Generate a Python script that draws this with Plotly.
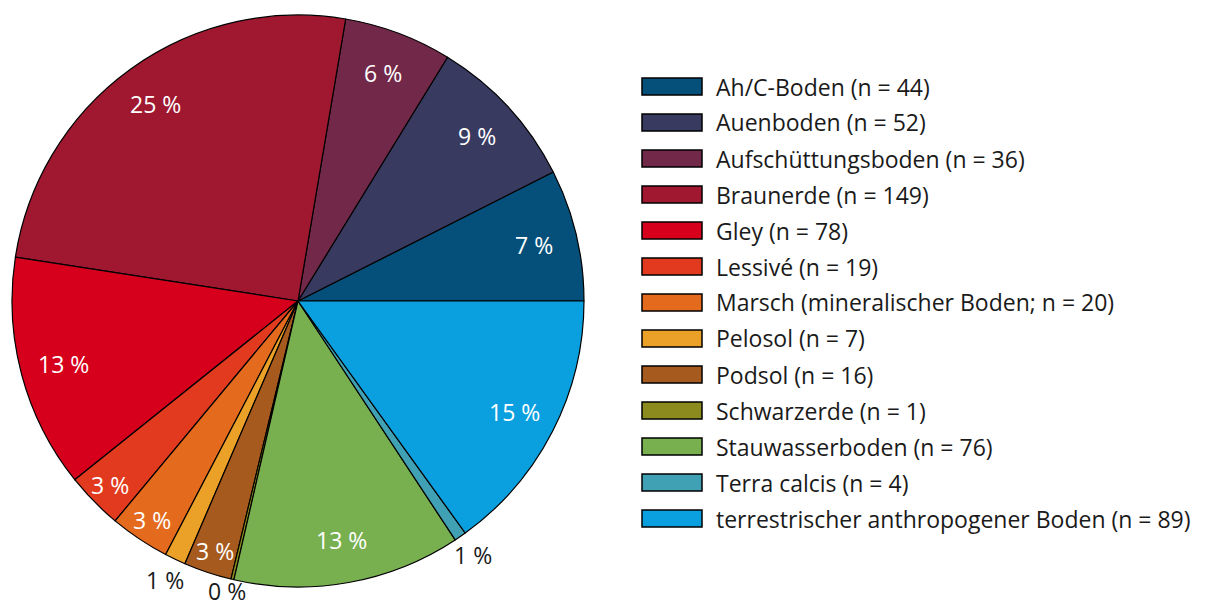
import math
import plotly.graph_objects as go

# soil types and sample counts
labels = [
    "Ah/C-Boden", "Auenboden", "Aufschüttungsboden", "Braunerde", "Gley",
    "Lessivé", "Marsch", "Pelosol", "Podsol", "Schwarzerde",
    "Stauwasserboden", "Terra calcis", "terrestrischer anthropogener Boden",
]
legend_text = [
    "Ah/C-Boden (n = 44)", "Auenboden (n = 52)", "Aufschüttungsboden (n = 36)",
    "Braunerde (n = 149)", "Gley (n = 78)", "Lessivé (n = 19)",
    "Marsch (mineralischer Boden; n = 20)", "Pelosol (n = 7)", "Podsol (n = 16)",
    "Schwarzerde (n = 1)", "Stauwasserboden (n = 76)", "Terra calcis (n = 4)",
    "terrestrischer anthropogener Boden (n = 89)",
]
counts = [44, 52, 36, 149, 78, 19, 20, 7, 16, 1, 76, 4, 89]
colors = [
    "#05507A", "#383A60", "#722848", "#A01830", "#D7001C", "#E23A1E", "#E46A1E",
    "#EBA028", "#A65A1E", "#8C8C1E", "#78B050", "#40A0B4", "#0AA0E0",
]
outside = ["Pelosol", "Schwarzerde", "Terra calcis"]

total = sum(counts)
pct_text = [f"{round(c / total * 100)} %" for c in counts]

# first slice should start at 3 o'clock and run counterclockwise
rotation = 90 - counts[0] / total * 360

FONT = "Open Sans"
W, H = 1208, 608
# pie placement in pixels
cx, cy, R = 298, 301, 286

fig = go.Figure(go.Pie(
    labels=labels,
    values=counts,
    textinfo="none",
    marker=dict(colors=colors, line=dict(color="black", width=1.2)),
    sort=False,
    direction="counterclockwise",
    rotation=rotation,
    showlegend=False,
    automargin=False,
    hoverinfo="label+percent",
    domain=dict(x=[(cx - R) / W, (cx + R) / W], y=[1 - (cy + R) / H, 1 - (cy - R) / H]),
))

shapes = []
annotations = []

# percentage labels near the rim (inside end), tiny slices outside
cum = 0
for lab, c, txt in zip(labels, counts, pct_text):
    ang = math.radians((cum + c / 2) / total * 360)
    cum += c
    if lab in outside:
        k, col = 1.08, "#1a1a1a"
    else:
        k = 0.85 if c / total > 0.05 else 0.92
        col = "white"
    px = cx + k * R * math.cos(ang)
    py = min(cy - k * R * math.sin(ang), H - 17)  # keep inside the canvas
    annotations.append(dict(
        text=txt, xref="paper", yref="paper", x=px / W, y=1 - py / H,
        xanchor="center", yanchor="middle", showarrow=False,
        font=dict(family=FONT, size=23, color=col),
    ))

# legend drawn by hand: wide rectangular swatches
y0 = 86.5
step = 36
for i, (txt, col) in enumerate(zip(legend_text, colors)):
    yc = y0 + i * step
    shapes.append(dict(
        type="rect", xref="paper", yref="paper",
        x0=642 / W, x1=702 / W, y0=1 - (yc + 8.5) / H, y1=1 - (yc - 8.5) / H,
        fillcolor=col, line=dict(color="black", width=1.5),
    ))
    annotations.append(dict(
        text=txt, xref="paper", yref="paper", x=714 / W, y=1 - yc / H,
        xanchor="left", yanchor="middle", showarrow=False,
        font=dict(family=FONT, size=23, color="#1a1a1a"),
    ))

fig.update_layout(
    width=W, height=H,
    margin=dict(l=0, r=0, t=0, b=0, autoexpand=False),
    paper_bgcolor="white",
    plot_bgcolor="white",
    shapes=shapes,
    annotations=annotations,
)

fig.write_html("out.html", config={"displayModeBar": False},
               post_script="document.body.style.margin='0';")
